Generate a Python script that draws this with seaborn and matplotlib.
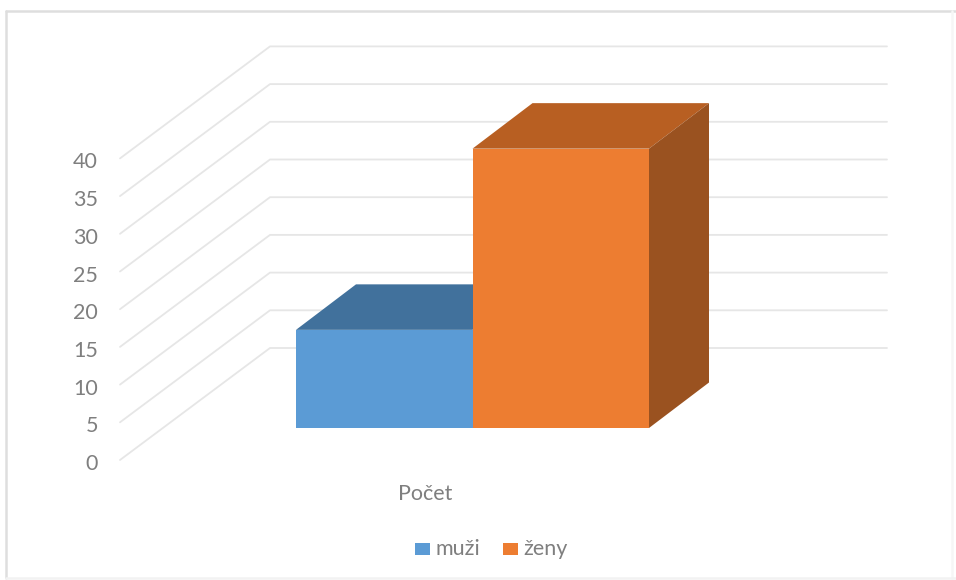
import matplotlib
matplotlib.use("Agg")
import matplotlib.pyplot as plt
from matplotlib.patches import Polygon, Rectangle
from matplotlib.lines import Line2D
import pandas as pd
import seaborn as sns

# data
category = ["Počet"]
series = ["muži", "ženy"]
values = [13, 37]
y_ticks = [0, 5, 10, 15, 20, 25, 30, 35, 40]
front_colors = ["#5B9BD5", "#ED7D31"]
top_colors = ["#41719C", "#B85F22"]
side_color = "#9A5220"
grid_color = "#E6E6E6"
text_color = "#7F7F7F"

W, H = 956, 580
sns.set_theme(style="white")
plt.rcParams["font.family"] = ["Lato", "DejaVu Sans"]

# pixel geometry of the projected chart
px_per_value = 7.55
px_per_x = 353.0
bar_base_px = 428.0
bar_left_px = 296.0
ylim = ((bar_base_px - H) / px_per_value, bar_base_px / px_per_value)
x_at_left = -0.5 - bar_left_px / px_per_x
xlim = (x_at_left, x_at_left + W / px_per_x)

df = pd.DataFrame({"cat": category * len(series), "series": series, "value": values})

fig = plt.figure(figsize=(W / 100, H / 100), dpi=100, facecolor="white")
ax = fig.add_axes([0, 0, 1, 1])
sns.barplot(data=df, x="cat", y="value", hue="series", hue_order=series,
            palette=front_colors, width=1.0, saturation=1, ax=ax, zorder=5,
            linewidth=0, legend=False)
ax.set_xlim(*xlim)
ax.set_ylim(*ylim)
ax.axis("off")

# oblique depth of the bars and of the wall
dx_bar, dy_bar = 60 / px_per_x, 45.5 / px_per_value
wall_dx, wall_dy = 150 / px_per_x, 112 / px_per_value
wall_left = x_at_left + 120 / px_per_x
wall_right = x_at_left + 887 / px_per_x
front_zero = (bar_base_px - 460) / px_per_value

for t in y_ticks:
    y0 = front_zero + t * 37.7 / 5 / px_per_value
    ax.plot([wall_left, wall_left + wall_dx, wall_right],
            [y0, y0 + wall_dy, y0 + wall_dy],
            color=grid_color, lw=1.3, zorder=1, solid_joinstyle="round")
    ax.text(x_at_left + 98 / px_per_x, y0 - 4 / px_per_value, str(t), ha="right", va="center",
            fontsize=15.5, color=text_color)

# top and side faces, from the bars seaborn drew
for i, (bar, v) in enumerate(zip(ax.patches, values)):
    x0, x1 = bar.get_x(), bar.get_x() + bar.get_width()
    ax.add_patch(Polygon([(x0, v), (x1, v), (x1 + dx_bar, v + dy_bar), (x0 + dx_bar, v + dy_bar)],
                         closed=True, facecolor=top_colors[i], edgecolor="none", zorder=3 + i))
ob = ax.patches[1]
x1 = ob.get_x() + ob.get_width()
ax.add_patch(Polygon([(x1, 0), (x1 + dx_bar, dy_bar), (x1 + dx_bar, values[1] + dy_bar), (x1, values[1])],
                     closed=True, facecolor=side_color, edgecolor="none", zorder=4))

# category label
ax.text(x_at_left + 425 / px_per_x, (bar_base_px - 494) / px_per_value, category[0],
        ha="center", va="center", fontsize=15.5, color=text_color)

# legend
lx = [415, 503]
for name, col, px in zip(series, front_colors, lx):
    ax.add_patch(Rectangle((x_at_left + px / px_per_x, (bar_base_px - 555) / px_per_value),
                           15 / px_per_x, 12 / px_per_value, facecolor=col, edgecolor="none"))
    ax.text(x_at_left + (px + 20) / px_per_x, (bar_base_px - 549) / px_per_value, name,
            ha="left", va="center", fontsize=15.5, color=text_color)

# chart frame: strong on top and left, faint on right and bottom
def frame(xs, ys, color):
    fig.add_artist(Line2D([x / W for x in xs], [1 - y / H for y in ys],
                          transform=fig.transFigure, color=color, lw=1.8))
frame([6, 6], [11, 578], "#DEDEDE")
frame([6, 956], [11, 11], "#DEDEDE")
frame([952, 952], [11, 578], "#F6F6F6")
frame([6, 956], [578, 578], "#F2F2F2")

fig.savefig("out.png", dpi=100, facecolor="white")
